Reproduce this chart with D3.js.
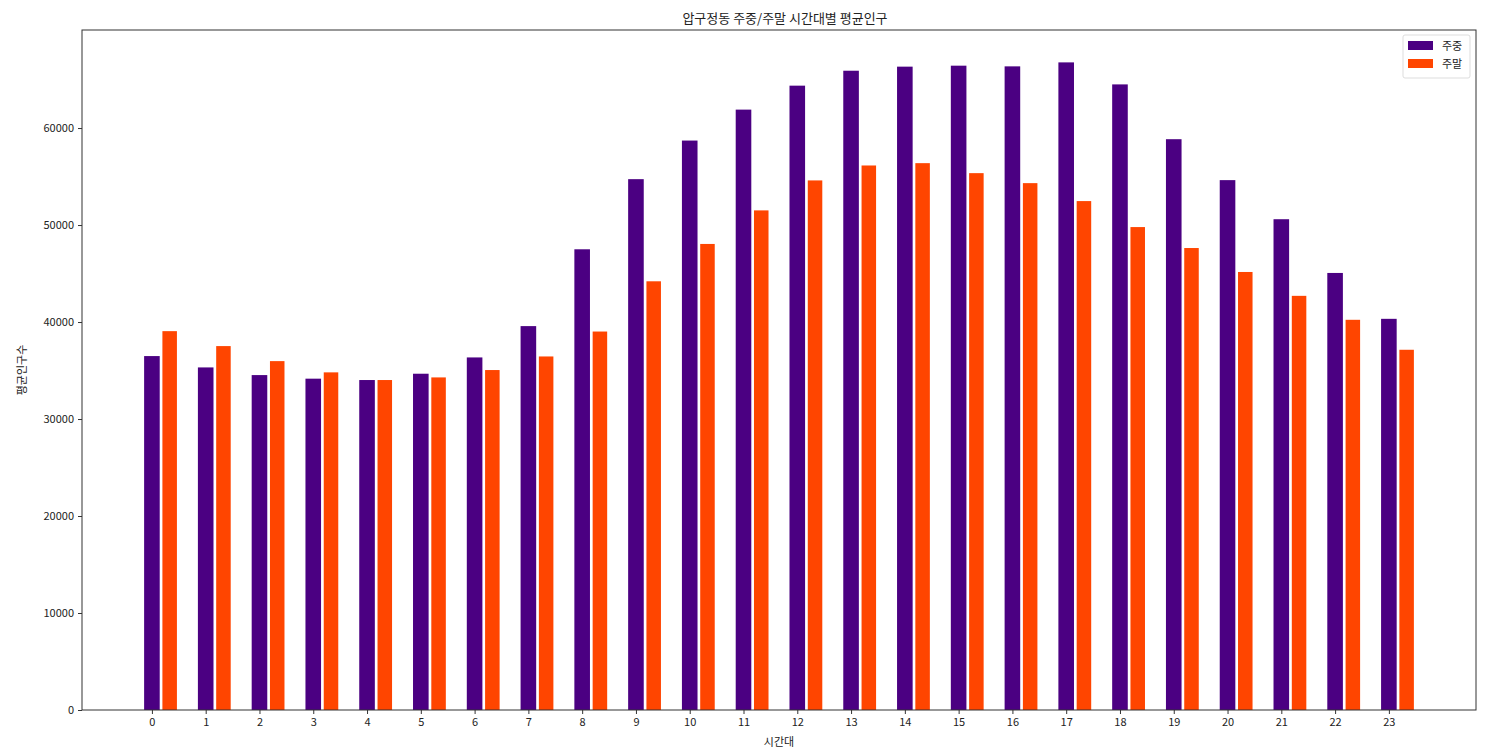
<!DOCTYPE html>
<html><head><meta charset="utf-8">
<script src="https://cdn.jsdelivr.net/npm/d3@7"></script>
<style>body{margin:0;background:#fff}svg text{font-family:"Noto Sans CJK KR","Noto Sans",sans-serif;fill:#222}</style>
</head><body>
<svg id="c" width="1498" height="754"></svg>
<script>
const hours = ["0","1","2","3","4","5","6","7","8","9","10","11","12","13","14","15","16","17","18","19","20","21","22","23"];
const weekday = [36490,35320,34530,34160,34020,34670,36350,39580,47500,54730,58710,61900,64370,65910,66330,66430,66360,66770,64500,58850,54630,50600,45060,40330];
const weekend = [39060,37520,35970,34810,34020,34290,35050,36450,39020,44200,48050,51510,54600,56140,56380,55350,54320,52470,49790,47630,45160,42700,40230,37140];
const yTicks = [0,10000,20000,30000,40000,50000,60000];
const seriesNames = ["주중","주말"];
const colors = ["#4b0082","#ff4500"];
const title = "압구정동 주중/주말 시간대별 평균인구";
const xLabel = "시간대";
const yLabel = "평균인구수";

const svg = d3.select("#c");
const L=82,R=1476,T=30,B=710;
const x = d3.scaleLinear().domain([-1.30,24.62]).range([L,R]);
const ymax = d3.max(weekday.concat(weekend))*1.05;
const y = d3.scaleLinear().domain([0,ymax]).range([B,T]);

const wW=0.29, wO=0.27, off=0.33;
const g = svg.append("g");
g.selectAll(".wd").data(weekday).join("rect")
 .attr("x",(d,i)=>x(i-wW/2)).attr("width",x(wW)-x(0))
 .attr("y",d=>y(d)).attr("height",d=>B-y(d)).attr("fill",colors[0]);
g.selectAll(".we").data(weekend).join("rect")
 .attr("x",(d,i)=>x(i+off-wO/2)).attr("width",x(wO)-x(0))
 .attr("y",d=>y(d)).attr("height",d=>B-y(d)).attr("fill",colors[1]);

const xa = svg.append("g").attr("transform",`translate(0,${B})`)
 .call(d3.axisBottom(x).tickValues(d3.range(hours.length)).tickFormat(i=>hours[i]).tickSize(4).tickPadding(4));
const ya = svg.append("g").attr("transform",`translate(${L},0)`)
 .call(d3.axisLeft(y).tickValues(yTicks).tickFormat(d=>String(d)).tickSize(4).tickPadding(4));
[xa,ya].forEach(a=>{a.select(".domain").remove();a.selectAll("text").attr("font-size",11).style("fill","#222");a.selectAll("line").attr("stroke","#333");});

svg.append("rect").attr("x",L).attr("y",T).attr("width",R-L).attr("height",B-T)
 .attr("fill","none").attr("stroke","#333").attr("stroke-width",1);

svg.append("text").attr("x",(L+R)/2+6).attr("y",T-7).attr("text-anchor","middle").attr("font-size",13).text(title);
svg.append("text").attr("x",(L+R)/2).attr("y",746).attr("text-anchor","middle").attr("font-size",11).text(xLabel);
svg.append("text").attr("transform",`translate(26,${(T+B)/2}) rotate(-90)`).attr("text-anchor","middle").attr("font-size",11).text(yLabel);

const lg = svg.append("g").attr("transform","translate(1403,35)");
lg.append("rect").attr("width",67).attr("height",43).attr("rx",2).attr("fill","#fff").attr("stroke","#ddd");
seriesNames.forEach((n,i)=>{
  lg.append("rect").attr("x",5).attr("y",6+i*18).attr("width",25).attr("height",9).attr("fill",colors[i]);
  lg.append("text").attr("x",39).attr("y",15+i*18).attr("font-size",11).text(n);
});
</script>
</body></html>
